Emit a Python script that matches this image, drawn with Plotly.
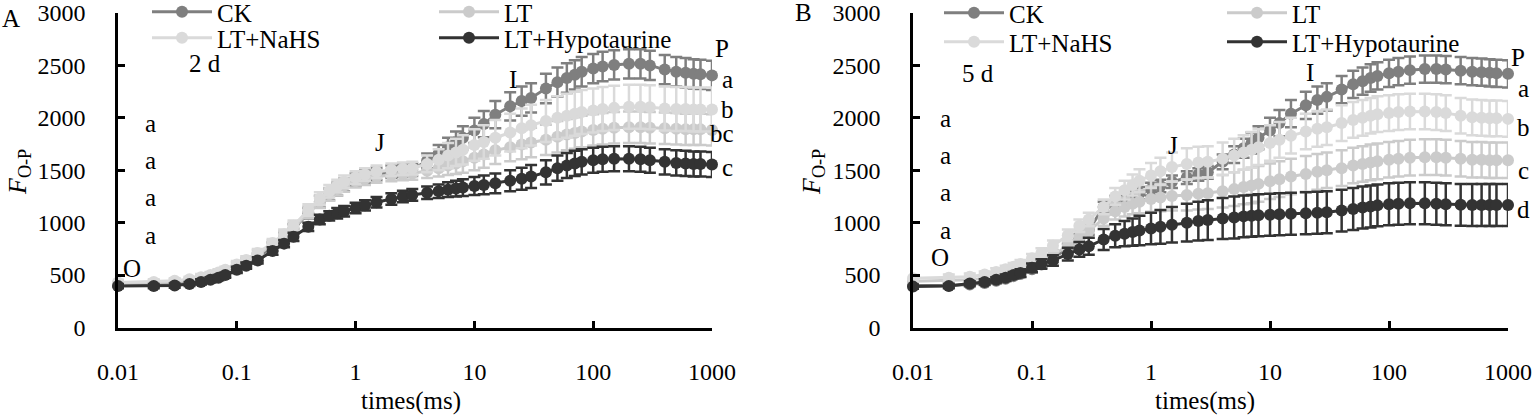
import plotly.graph_objects as go

TIME = [0.01, 0.02, 0.03, 0.04, 0.05, 0.06, 0.07, 0.08, 0.1, 0.12, 0.15, 0.2, 0.25, 0.3,
        0.4, 0.5, 0.6, 0.7, 0.8, 1.0, 1.2, 1.5, 2.0, 2.5, 3.0, 4, 5, 6, 7, 8, 10, 12, 15,
        20, 25, 30, 40, 50, 60, 70, 80, 100, 120, 150, 200, 250, 300, 400, 500, 600, 700,
        800, 1000]

SERIES = ["CK", "LT", "LT+NaHS", "LT+Hypotaurine"]
COLORS = ["#7f7f7f", "#cbcbcb", "#dadada", "#333333"]

# Panel A (2 d)
A_CK = [400, 405, 415, 430, 450, 470, 495, 515, 560, 605, 670, 770, 860, 940, 1090, 1200,
        1270, 1320, 1360, 1410, 1440, 1465, 1485, 1495, 1505, 1590, 1660, 1720, 1770, 1810,
        1880, 1940, 2030, 2110, 2160, 2190, 2280, 2340, 2380, 2410, 2440, 2470, 2490, 2505,
        2515, 2515, 2500, 2460, 2440, 2430, 2420, 2415, 2405]
A_LT = [420, 425, 435, 450, 470, 490, 515, 540, 585, 630, 695, 790, 875, 950, 1100, 1200,
        1270, 1320, 1355, 1395, 1420, 1440, 1455, 1465, 1470, 1495, 1520, 1545, 1565, 1585,
        1620, 1650, 1690, 1720, 1745, 1765, 1790, 1820, 1840, 1855, 1870, 1885, 1895, 1905,
        1910, 1910, 1905, 1900, 1895, 1890, 1890, 1890, 1885]
A_NAHS = [430, 435, 445, 460, 480, 500, 525, 550, 600, 645, 710, 805, 890, 970, 1120, 1230,
          1300, 1350, 1390, 1430, 1460, 1485, 1505, 1515, 1520, 1560, 1600, 1640, 1670, 1695,
          1740, 1770, 1810, 1860, 1900, 1930, 1970, 2000, 2020, 2040, 2055, 2070, 2085, 2095,
          2105, 2105, 2100, 2090, 2085, 2085, 2080, 2080, 2080]
A_HYPO = [395, 395, 400, 415, 435, 455, 475, 500, 550, 590, 640, 730, 800, 865, 960, 1030,
          1065, 1090, 1110, 1140, 1165, 1195, 1225, 1250, 1265, 1285, 1300, 1315, 1325, 1335,
          1350, 1360, 1375, 1400, 1420, 1440, 1480, 1520, 1545, 1565, 1580, 1595, 1605, 1610,
          1610, 1605, 1595, 1580, 1570, 1565, 1560, 1560, 1555]

A_CK_ERR = [20, 20, 20, 20, 25, 25, 25, 30, 30, 30, 35, 40, 40, 45, 50, 55, 55, 60, 60, 60,
            60, 60, 60, 60, 60, 70, 80, 90, 100, 110, 120, 125, 130, 135, 140, 140, 140, 140,
            140, 140, 140, 140, 140, 140, 140, 140, 140, 140, 140, 140, 140, 140, 140]
A_LT_ERR = [25, 25, 25, 25, 30, 30, 30, 30, 35, 35, 40, 40, 45, 50, 55, 60, 60, 60, 60, 60,
            60, 60, 60, 60, 60, 70, 80, 90, 100, 110, 120, 125, 130, 135, 140, 140, 145, 150,
            150, 150, 150, 150, 150, 150, 150, 150, 150, 150, 150, 150, 150, 150, 150]
A_NAHS_ERR = [25, 25, 25, 25, 30, 30, 30, 30, 35, 35, 40, 40, 45, 50, 55, 60, 60, 60, 60, 60,
              60, 60, 60, 60, 60, 80, 100, 120, 130, 140, 150, 160, 170, 180, 190, 195, 200,
              205, 210, 210, 210, 210, 210, 210, 210, 210, 210, 210, 210, 210, 210, 210, 210]
A_HYPO_ERR = [20, 20, 20, 20, 25, 25, 25, 25, 30, 30, 30, 35, 35, 40, 40, 45, 45, 50, 50, 50,
              50, 50, 55, 55, 55, 60, 65, 70, 75, 80, 85, 90, 95, 100, 105, 110, 115, 120,
              120, 120, 120, 120, 120, 120, 120, 120, 120, 120, 120, 120, 120, 120, 120]

# Panel B (5 d)
B_CK = [400, 400, 410, 425, 445, 465, 490, 510, 555, 600, 660, 760, 850, 930, 1150, 1200,
        1230, 1255, 1280, 1320, 1350, 1390, 1430, 1460, 1480, 1580, 1650, 1710, 1760, 1810,
        1880, 1950, 2040, 2120, 2170, 2200, 2270, 2320, 2350, 2380, 2400, 2425, 2440, 2455,
        2465, 2465, 2460, 2450, 2440, 2435, 2430, 2425, 2420]
B_LT = [440, 445, 455, 470, 490, 510, 530, 550, 590, 630, 690, 780, 860, 920, 1040, 1110,
        1150, 1180, 1200, 1225, 1240, 1255, 1265, 1275, 1280, 1300, 1320, 1340, 1355, 1370,
        1395, 1415, 1440, 1465, 1485, 1500, 1520, 1545, 1560, 1575, 1585, 1600, 1610, 1620,
        1625, 1625, 1620, 1610, 1600, 1600, 1595, 1595, 1595]
B_NAHS = [470, 475, 485, 505, 530, 555, 580, 605, 660, 710, 780, 880, 970, 1030, 1150, 1250,
          1310, 1360, 1400, 1450, 1490, 1530, 1560, 1575, 1580, 1610, 1640, 1670, 1695, 1720,
          1760, 1790, 1830, 1870, 1895, 1910, 1950, 1980, 2000, 2020, 2035, 2045, 2055, 2060,
          2060, 2055, 2045, 2020, 2005, 2000, 1995, 1995, 1990]
B_HYPO = [390, 395, 420, 435, 455, 475, 500, 520, 570, 605, 640, 700, 745, 775, 840, 875,
          895, 910, 925, 945, 960, 980, 1000, 1015, 1025, 1040, 1050, 1060, 1065, 1070, 1075,
          1080, 1085, 1090, 1095, 1100, 1115, 1130, 1145, 1155, 1165, 1175, 1180, 1185, 1185,
          1180, 1175, 1170, 1168, 1168, 1168, 1168, 1168]

B_CK_ERR = [20, 20, 20, 20, 25, 25, 25, 30, 30, 30, 35, 40, 40, 45, 50, 55, 55, 60, 60, 60,
            60, 60, 60, 60, 60, 70, 80, 90, 100, 110, 120, 125, 130, 130, 130, 130, 130, 130,
            130, 130, 130, 130, 130, 130, 130, 130, 130, 130, 130, 130, 130, 130, 130]
B_LT_ERR = [30, 30, 30, 30, 35, 35, 35, 40, 40, 45, 50, 55, 60, 65, 70, 80, 90, 100, 110, 120,
            130, 140, 150, 150, 150, 155, 160, 165, 170, 170, 170, 170, 170, 170, 170, 170, 170,
            170, 170, 170, 170, 170, 170, 170, 170, 170, 170, 170, 170, 170, 170, 170, 170]
B_NAHS_ERR = [30, 30, 30, 30, 35, 35, 35, 40, 40, 45, 50, 55, 60, 65, 70, 80, 90, 100, 110, 120,
              130, 140, 150, 150, 150, 155, 160, 165, 170, 170, 170, 170, 170, 170, 170, 170,
              170, 170, 170, 170, 170, 170, 170, 170, 170, 170, 170, 170, 170, 170, 170, 170, 170]
B_HYPO_ERR = [20, 20, 20, 25, 25, 30, 30, 35, 40, 45, 50, 60, 70, 80, 100, 110, 120, 130, 140,
              150, 160, 170, 180, 185, 190, 195, 200, 200, 200, 200, 200, 200, 200, 200, 200,
              200, 200, 200, 200, 200, 200, 200, 200, 200, 200, 200, 200, 200, 200, 200, 200,
              200, 200]

PANELS = [
    ("x", "y", [A_CK, A_LT, A_NAHS, A_HYPO], [A_CK_ERR, A_LT_ERR, A_NAHS_ERR, A_HYPO_ERR],
     ["legend", "legend", "legend2", "legend2"]),
    ("x2", "y2", [B_CK, B_LT, B_NAHS, B_HYPO], [B_CK_ERR, B_LT_ERR, B_NAHS_ERR, B_HYPO_ERR],
     ["legend3", "legend3", "legend4", "legend4"]),
]

FONT = "Liberation Serif"
W, H = 1535, 415

fig = go.Figure()
for xa, ya, vals, errs, legs in PANELS:
    for name, color, v, e, lg in zip(SERIES, COLORS, vals, errs, legs):
        fig.add_trace(go.Scatter(
            x=TIME, y=v, name=name, xaxis=xa, yaxis=ya, mode="lines+markers",
            line=dict(color=color, width=3),
            marker=dict(color=color, size=12),
            error_y=dict(type="data", array=e, visible=True, color=color,
                         thickness=2.5, width=6),
            cliponaxis=False, legend=lg, showlegend=True,
        ))


def px(x):
    return x / W


def py(y):
    return 1 - y / H


axis_common = dict(
    showgrid=False, zeroline=False, showline=True, linecolor="black", linewidth=2.5,
    ticks="inside", ticklen=7, tickwidth=2.5, tickcolor="black", automargin=False,
    tickfont=dict(family=FONT, size=24, color="black"),
)

XT = [0.01, 0.1, 1, 10, 100, 1000]
XL = ["0.01", "0.1", "1", "10", "100", "1000"]
ydom = [py(327.5), py(13)]
fig.update_layout(
    width=W, height=H, margin=dict(l=0, r=0, t=0, b=0, autoexpand=False),
    paper_bgcolor="white", plot_bgcolor="white", showlegend=True,
    xaxis=dict(type="log", range=[-2, 3], domain=[px(118), px(712)], anchor="y",
               tickvals=XT, ticktext=XL, ticklabelstandoff=21, **axis_common),
    yaxis=dict(range=[0, 3000], domain=ydom, anchor="x", dtick=500,
               ticklabelstandoff=25, **axis_common),
    xaxis2=dict(type="log", range=[-2, 3], domain=[px(913), px(1508)], anchor="y2",
                tickvals=XT, ticktext=XL, ticklabelstandoff=21, **axis_common),
    yaxis2=dict(range=[0, 3000], domain=ydom, anchor="x2", dtick=500,
                ticklabelstandoff=25, **axis_common),
)

leg_common = dict(orientation="h", entrywidth=212, entrywidthmode="pixels",
                  itemwidth=60, bgcolor="rgba(0,0,0,0)", borderwidth=0,
                  font=dict(family=FONT, size=25, color="black"),
                  xanchor="left", yanchor="middle", tracegroupgap=0,
                  itemclick=False, itemdoubleclick=False)
fig.update_layout(
    legend=dict(x=px(147), y=py(12), **leg_common),
    legend2=dict(x=px(147), y=py(38), **leg_common),
    legend3=dict(x=px(939), y=py(13), **{**leg_common, "entrywidth": 208}),
    legend4=dict(x=px(939), y=py(42), **{**leg_common, "entrywidth": 208}),
)

ANNOTS = [
    ("A", 11, 19), ("2 d", 205, 63), ("a", 150, 123), ("a", 150, 160), ("a", 150, 197),
    ("a", 150, 235), ("O", 132, 268), ("J", 380, 142), ("I", 513, 80), ("P", 722, 48),
    ("a", 727, 80), ("b", 727, 110), ("bc", 722, 133), ("c", 727, 167),
    ("B", 803, 13), ("5 d", 978, 73), ("a", 945, 118), ("a", 945, 155), ("a", 945, 192),
    ("a", 945, 230), ("O", 940, 257), ("J", 1173, 145), ("I", 1310, 72), ("P", 1518, 57),
    ("a", 1523, 88), ("b", 1523, 128), ("c", 1523, 170), ("d", 1523, 210),
    ("times(ms)", 411, 401), ("times(ms)", 1205, 401),
]
for text, ax_, ay_ in ANNOTS:
    fig.add_annotation(text=text, x=px(ax_), y=py(ay_), xref="paper", yref="paper",
                       showarrow=False, xanchor="center", yanchor="middle",
                       font=dict(family=FONT, size=25, color="black"))

for xx in (19, 813):
    fig.add_annotation(text="<i>F</i><sub>O-P</sub>", x=px(xx), y=py(172), xref="paper",
                       yref="paper", showarrow=False, textangle=-90,
                       xanchor="center", yanchor="middle",
                       font=dict(family=FONT, size=26, color="black"))

# remove the default page margin so the 1535x415 figure fills the window exactly
fig.write_html("out.html", config={"displayModeBar": False},
               post_script="document.body.style.margin='0';"
                           "document.body.style.overflow='hidden';")
